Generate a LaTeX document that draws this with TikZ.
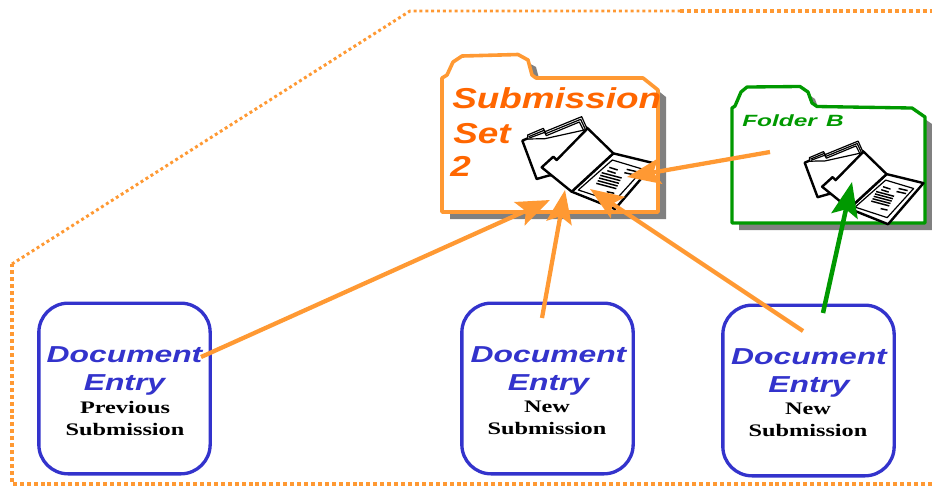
\documentclass[tikz,border=0pt]{standalone}
\usepackage{fontspec}
\usetikzlibrary{arrows.meta,calc}
\setmainfont{Liberation Sans}
\newfontfamily\subfont[FakeStretch=1.28]{Liberation Sans}
\newfontfamily\docfont[FakeStretch=1.38]{Liberation Sans}
\newfontfamily\fldfont[FakeStretch=1.5]{Liberation Sans}
\newfontfamily\capfont[FakeStretch=1.38]{Liberation Serif}
\definecolor{ordot}{HTML}{FF9933}
\definecolor{ortext}{HTML}{FF6600}
\definecolor{bluebox}{HTML}{3333CC}
\definecolor{greenf}{HTML}{009900}
\definecolor{shadowg}{HTML}{808080}
\tikzset{
  docbox/.style={draw=bluebox,line width=2.5pt,rounded corners=22pt,fill=white,minimum width=128.5pt,minimum height=128pt,inner sep=0pt},
  doctitle/.style={text=bluebox,font=\docfont\fontsize{17.3}{21}\selectfont\bfseries\itshape,align=center,inner sep=0pt},
  doccap/.style={text=black,font=\capfont\fontsize{13.2}{16.5}\selectfont\bfseries,align=center,inner sep=0pt},
  subtitle/.style={text=ortext,font=\subfont\fontsize{21.6}{26}\selectfont\bfseries\itshape,anchor=base west,inner sep=0pt},
  fldtitle/.style={text=greenf,font=\fldfont\fontsize{12.2}{14}\selectfont\bfseries\itshape,anchor=base west,inner sep=0pt},
  orarrow/.style={draw=ordot,line width=3.2pt,-{Stealth[length=25pt,width=19pt,inset=5pt]}},
  grarrow/.style={draw=greenf,line width=3.4pt,-{Stealth[length=26pt,width=20pt,inset=5pt]}},
  iconline/.style={draw=black,line width=1.8pt,line join=round,fill=white},
  iconthin/.style={draw=black,line width=.9pt,line join=round},
  icontext/.style={draw=black,line width=1.1pt},
  boundary/.style={draw=ordot,line width=2.2pt,dash pattern=on 2.2pt off 2.2pt},
  boundaryb/.style={draw=ordot,line width=2.6pt,dash pattern=on 3pt off 2.2pt},
  pics/foldericon/.style={code={
    % back sheet with stacked tabs
    \draw[iconline] (277,302) -- (293,295) -- (340,290) -- (470,262) -- (480,300) -- (400,400) -- (355,407) -- (320,417) -- cycle;
    \draw[iconthin,fill=white] (293,285) -- (340,265) -- (345,275) -- (455,230) -- (472,268) -- (345,296) -- (293,297) -- cycle;
    \draw[iconthin] (296,290) -- (342,271) -- (347,281) -- (452,238) -- (466,268);
    \draw[iconthin] (298,294) -- (344,277) -- (349,287) -- (448,246) -- (460,270);
    % open sheet
    \draw[iconline] (425,455) -- (550,340) -- (673,370) -- (555,507) -- cycle;
    \draw[iconline] (335,382) -- (370,350) -- (380,360) -- (473,265) -- (550,340) -- (425,455) -- cycle;
    \draw[iconthin] (445,450) -- (547,360) -- (640,388) -- (552,485) -- cycle;
    \foreach \xx/\yy in {499/430,503/422,507/414,511/406,515/398}
      \draw[icontext] (\xx,\yy) -- ++(60,16);
    \draw[icontext] (538,382) -- ++(25,8);
    \draw[icontext] (532,392) -- ++(25,8);
    \draw[icontext] (590,388) -- ++(30,7);
    \draw[icontext] (583,398) -- ++(32,7);
    \draw[icontext] (530,455) -- ++(23,5);
  }}
}
\begin{document}
\begin{tikzpicture}[x=0.75pt,y=-0.75pt]
\useasboundingbox (0,0) rectangle (932,487);
% dotted boundary
\coordinate (bl) at (12,484);
\coordinate (ml) at (12,264);
\coordinate (tk) at (410,11);
\coordinate (tm) at (680,11);
\coordinate (tr) at (932,11);
\coordinate (br) at (932,484);
\draw[boundaryb] (br) -- (bl) -- (ml);
\draw[boundary] (ml) -- (tk) -- (tm);
\draw[boundaryb] (tm) -- (tr);

% orange folder
\def\orfolder{(442,212) -- (442,78) -- (447,75) -- (453,62) -- (462,56) -- (518,54.5) -- (528,60) -- (532,75) -- (536,78) -- (643,78) -- (658,90) -- (658,212) -- cycle}
\begin{scope}[shift={(8,7)}]
\fill[shadowg] \orfolder;
\end{scope}
\draw[draw=ordot,fill=white,line width=2.7pt,line join=round] \orfolder;
\node[subtitle] (s1) at (452,108) {Submission};
\node[subtitle] (s2) at (453,143) {Set};
\node[subtitle] (s3) at (450,176) {2};
\pic at (430,40) [scale=1/3] {foldericon};

% green folder
\def\grfolder{(732,223) -- (732,108) -- (735,106) -- (741,92) -- (747,87) -- (800,86.5) -- (808,92) -- (812,103) -- (817,106.5) -- (912,108) -- (925,117) -- (925,223) -- cycle}
\begin{scope}[shift={(7,7)}]
\fill[shadowg] \grfolder;
\end{scope}
\draw[draw=greenf,fill=white,line width=2.5pt,line join=round] \grfolder;
\node[fldtitle] (f1) at (742,126) {Folder\hspace{7pt}B};
\pic at (721.6,72.1) [scale=0.3] {foldericon};

% document entries
\node[docbox] (d1) at (124.5,388.5) {};
\node[docbox] (d2) at (547.5,388.5) {};
\node[docbox] (d3) at (808.5,390.5) {};
\node[doctitle] (t1) at (124.5,371) {Document\\Entry};
\node[doctitle] (t2) at (548.5,371) {Document\\Entry};
\node[doctitle] (t3) at (809,373) {Document\\Entry};
\node[doccap] (c1) at (125,418) {Previous\\Submission};
\node[doccap] (c2) at (547,418) {New\\Submission};
\node[doccap] (c3) at (808,420) {New\\Submission};

% connector ends
\coordinate (a1s) at (201,357);
\coordinate (a1e) at (550,200);
\coordinate (a2s) at (542,318);
\coordinate (a2e) at (565,190);
\coordinate (a3s) at (803,331);
\coordinate (a3e) at (590,189);
\coordinate (a4s) at (770,152);
\coordinate (a4e) at (627,177);
\coordinate (a5s) at (823,313);
\coordinate (a5e) at (852,182);
\draw[orarrow] (a1s) -- (a1e);
\draw[orarrow] (a2s) -- (a2e);
\draw[orarrow] (a3s) -- (a3e);
\draw[orarrow] (a4s) -- (a4e);
\draw[grarrow] (a5s) -- (a5e);
\end{tikzpicture}
\end{document}
